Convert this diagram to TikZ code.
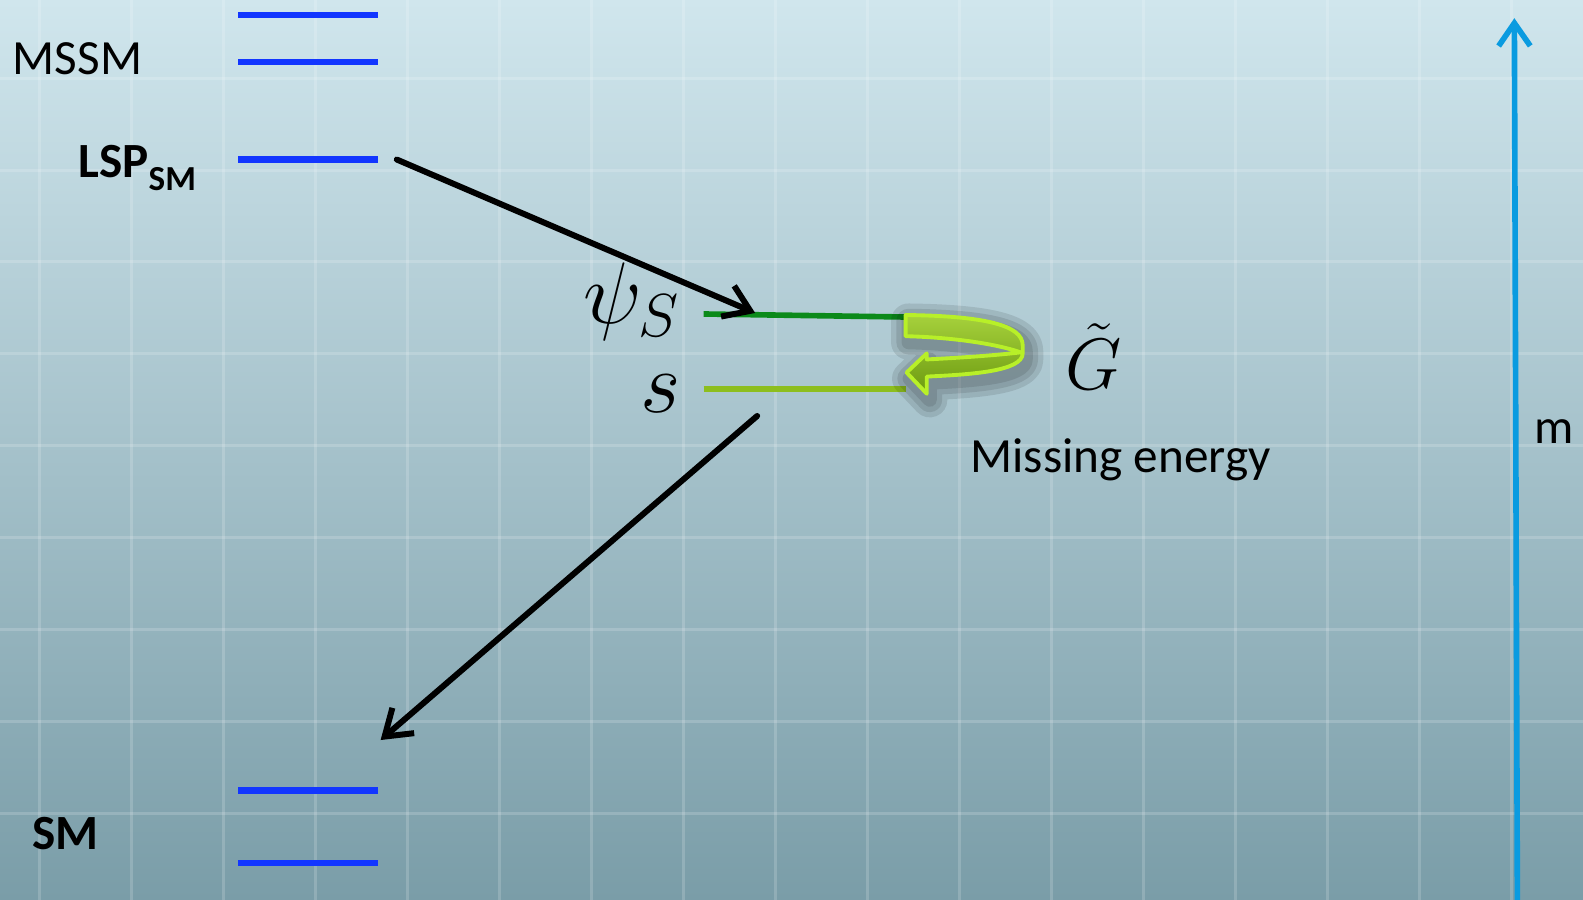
\documentclass[tikz,border=0pt]{standalone}
\usepackage{fontspec}
\setmainfont{Carlito}
\usetikzlibrary{arrows.meta,calc}
\definecolor{bgtop}{HTML}{D0E6ED}
\definecolor{bgmid}{HTML}{B9D5DD}
\definecolor{bgbot}{HTML}{7A9DA8}
\definecolor{lvlblue}{HTML}{1236FF}
\definecolor{psigreen}{HTML}{0B8A1A}
\definecolor{sgreen}{HTML}{8DBE1E}
\definecolor{axisblue}{HTML}{0A9BE0}
\definecolor{curltop}{HTML}{A6D13C}
\definecolor{curlbot}{HTML}{6C9A10}
\definecolor{curledge}{HTML}{B8F028}

\begin{document}
\begin{tikzpicture}[x=0.10096mm, y=-0.10096mm,
  grid/.style={white, opacity=0.17, line width=0.85pt},
  level/.style={draw=lvlblue, line width=1.75pt},
  lab/.style={inner sep=0pt, font=\fontsize{14}{16}\selectfont},
  blab/.style={inner sep=0pt, font=\fontsize{14}{16}\selectfont\bfseries},
  decay/.style={-{Straight Barb[length=7pt,width=9.5pt]}, line width=1.7pt, line cap=round},
  maxis/.style={-{Straight Barb[length=6.5pt,width=9pt]}, axisblue, line width=1.6pt, line cap=round}]
\useasboundingbox (0,0) rectangle (1568,891);

% --- sfondo con griglia ---
\shade[top color=bgtop, middle color=bgmid, bottom color=bgbot] (0,0) rectangle (1568,891);
\foreach \i in {0,...,16} \draw[grid] ({39.6+91.1*\i},0) -- ++(0,891);
\foreach \j in {0,...,8} \draw[grid] (0,{77.3+91.1*\j}) -- ++(1568,0);

% --- livelli MSSM / SM ---
\foreach \y/\nm in {15/mssma, 61/mssmb, 158/lsp, 783/sma, 855/smb}
  \draw[level] (236,\y) coordinate (\nm-l) -- (374,\y) coordinate (\nm-r);
\node[lab, anchor=west] (mssm) at (12,58) {MSSM};
\node[blab, anchor=base west] (lsplab) at (77,176) {LSP\raisebox{-0.27em}{\fontsize{10}{12}\selectfont SM}};
\node[blab] (smlab) at (65,826) {SM};

% --- settore nascosto ---
\draw[psigreen, line width=1.6pt] (697,311) coordinate (psi-l) -- (897,314) coordinate (psi-r);
\draw[sgreen, line width=1.6pt] (697,385) coordinate (s-l) -- (897,385) coordinate (s-r);
\node[anchor=east, inner sep=0pt, font=\fontsize{24.5}{28}\selectfont] (psilab) at (675,299) {$\psi_S$};
\node[anchor=east, inner sep=0pt, font=\fontsize{26}{29}\selectfont] (slab) at (675,390) {$s$};
\node[inner sep=0pt, font=\fontsize{21}{24}\selectfont] (gtilde) at (1083,353) {$\tilde G$};
\node[lab] (miss) at (1110,455) {Missing energy};

% --- freccia verde (gravitino) ---
\def\curl{(897,312) .. controls (975,313) and (1013,322) .. (1013,342) -- (1013,350)
  .. controls (1013,368) and (960,371) .. (918,373) -- (918,390) -- (898,369) -- (918,350) -- (918,356)
  .. controls (960,354) and (995,351) .. (1011,349) .. controls (985,340) and (940,334) .. (897,333) -- cycle}
\foreach \w in {10,7,4}
  \draw[black, opacity=0.1, line width=\w pt, line join=round, shift={(3,6)}] \curl;
\shadedraw[top color=curltop, bottom color=curlbot, draw=curledge, line width=1.1pt, line join=round] \curl;

% --- decadimenti ---
\coordinate (psi-in) at (748,310);
\coordinate (s-out) at (750,412);
\coordinate (sm-in) at (377,733);
\draw[decay] ($(lsp-r)+(19,0)$) -- (psi-in);
\draw[decay] (s-out) -- (sm-in);

% --- asse delle masse ---
\coordinate (m-bot) at (1503,891);
\coordinate (m-top) at (1500,18);
\draw[maxis] (m-bot) -- (m-top);
\node[lab, anchor=west] (mlab) at (1519,427) {m};
\end{tikzpicture}
\end{document}
